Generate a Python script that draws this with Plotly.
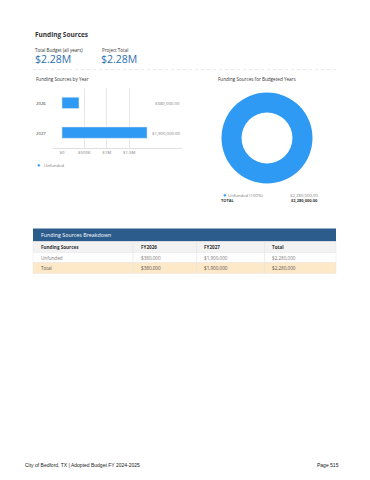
import plotly.graph_objects as go

W, H = 370, 480


def px(x):
    return x / W


def py(y):
    return 1 - y / H


# ---------------- data ----------------
page_title = "Funding Sources"
kpi_labels = ["Total Budget (all years)", "Project Total"]
kpi_values = ["$2.28M", "$2.28M"]

years = ["2026", "2027"]
unfunded = [380000, 1900000]
bar_value_labels = ["$380,000.00", "$1,900,000.00"]
tick_vals = [0, 500000, 1000000, 1500000]
tick_text = ["$0", "$500K", "$1M", "$1.5M"]

donut_labels = ["Unfunded"]
donut_values = [2280000]
donut_legend = ["Unfunded (100%)"]
donut_legend_values = ["$2,280,000.00"]
donut_total = "$2,280,000.00"

table_title = "Funding Sources Breakdown"
table_columns = ["Funding Sources", "FY2026", "FY2027", "Total"]
table_rows = [
    ["Unfunded", "$380,000", "$1,900,000", "$2,280,000"],
    ["Total", "$380,000", "$1,900,000", "$2,280,000"],
]

footer_left = "City of Bedford, TX | Adopted Budget FY 2024-2025"
footer_right = "Page 515"

# ---------------- styles ----------------
BLUE = "#2e9af3"
DARK = "#333333"
GRAY = "#7a7a7a"
FONT = "Open Sans"

ypos = list(range(len(years)))

fig = go.Figure()

fig.add_trace(go.Bar(
    y=ypos, x=unfunded, orientation="h", marker_color=BLUE, width=0.38,
    showlegend=False, xaxis="x", yaxis="y", hoverinfo="skip",
))

fig.add_trace(go.Pie(
    values=donut_values, labels=donut_labels, hole=0.56, sort=False,
    marker=dict(colors=[BLUE], line=dict(width=0)), textinfo="none",
    domain=dict(x=[px(221.5), px(312.5)], y=[py(183.5), py(92.5)]),
    showlegend=False, hoverinfo="skip",
))

annotations = []
shapes = []


def text(x, y, s, size, color=DARK, bold=False, anchor="left", family=FONT):
    annotations.append(dict(
        x=px(x), y=py(y), xref="paper", yref="paper", text=("<b>%s</b>" % s) if bold else s,
        showarrow=False, xanchor=anchor, yanchor="middle",
        font=dict(size=size, color=color, family=family),
    ))


# header texts
text(33, 35, page_title, 6.5, DARK, bold=True)
text(33, 49.5, kpi_labels[0], 4.5, DARK)
text(100, 49.5, kpi_labels[1], 4.5, DARK)
text(32.5, 59, kpi_values[0], 10.5, "#2a6fb0")
text(99.5, 59, kpi_values[1], 10.5, "#2a6fb0")

shapes.append(dict(type="line", xref="paper", yref="paper", x0=px(33), x1=px(336),
                   y0=py(69.5), y1=py(69.5), line=dict(color="#dcdcdc", width=0.6, dash="dot")))

text(33.5, 79, "Funding Sources by Year", 4.6, DARK)
text(215.5, 79, "Funding Sources for Budgeted Years", 4.6, DARK)

# bar category labels and value labels
for yi, yr, lab in zip(ypos, years, bar_value_labels):
    annotations.append(dict(x=px(33.5), y=yi, xref="paper", yref="y", text=yr, showarrow=False,
                            xanchor="left", yanchor="middle",
                            font=dict(size=4.3, color=DARK, family=FONT)))
    annotations.append(dict(x=px(182), y=yi, xref="paper", yref="y", text=lab, showarrow=False,
                            xanchor="right", yanchor="middle",
                            font=dict(size=4.3, color=GRAY, family=FONT)))

# bar legend
text(34.5, 164.5, "●", 5.5, BLUE)
text(41.5, 164.5, donut_labels[0], 4.3, GRAY)

# donut legend
text(220.5, 195, "●", 5.5, BLUE)
text(226, 195, donut_legend[0], 4.3, GRAY)
text(320, 195, donut_legend_values[0], 4.3, GRAY, anchor="right")
text(218.5, 200.5, "TOTAL", 4.0, DARK, bold=True)
text(320, 200.5, donut_total, 4.0, DARK, bold=True, anchor="right")

# table
tx0, tx1 = 33, 336
shapes.append(dict(type="rect", xref="paper", yref="paper", x0=px(tx0), x1=px(tx1),
                   y0=py(241.5), y1=py(228.5), fillcolor="#2c5c8c", line=dict(width=0)))
text(38.5, 235, table_title, 5.3, "#ffffff")
row_bounds = [(241.5, 252.5, "#f2f2f2"), (252.5, 262.5, "#ffffff"), (262.5, 273.5, "#fde8c8")]
for (a, b, c) in row_bounds:
    shapes.append(dict(type="rect", xref="paper", yref="paper", x0=px(tx0), x1=px(tx1),
                       y0=py(b), y1=py(a), fillcolor=c, line=dict(color="#e6e6e6", width=0.5)))
col_x = [38.5, 138.5, 201.5, 269.5]
sep_x = [133, 196.5, 264.5]
for sx in sep_x:
    shapes.append(dict(type="line", xref="paper", yref="paper", x0=px(sx), x1=px(sx),
                       y0=py(273.5), y1=py(241.5), line=dict(color="#e3e3e3", width=0.6)))
for cx, lab in zip(col_x, table_columns):
    text(cx, 247, lab, 4.6, DARK, bold=True)
row_colors = [GRAY, "#555555"]
for ri, row in enumerate(table_rows):
    yc = (row_bounds[ri + 1][0] + row_bounds[ri + 1][1]) / 2
    for cx, val in zip(col_x, row):
        text(cx, yc, val, 4.6, row_colors[ri])

# footer
text(23, 464.5, footer_left, 5.0, "#222222", family="Liberation Sans")
text(340.5, 464.5, footer_right, 5.0, "#222222", anchor="right", family="Liberation Sans")

fig.update_layout(
    width=W, height=H, margin=dict(l=0, r=0, t=0, b=0),
    paper_bgcolor="white", plot_bgcolor="white",
    font=dict(family=FONT, color=DARK),
    annotations=annotations, shapes=shapes,
    xaxis=dict(domain=[px(53), px(182)], range=[-200000, 2680000], tickvals=tick_vals,
               ticktext=tick_text, showgrid=True, gridcolor="#e8e8e8", gridwidth=0.8,
               zeroline=True, zerolinecolor="#ffffff", zerolinewidth=1.5,
               showline=True, linecolor="#e0e0e0", linewidth=0.8, anchor="y",
               tickfont=dict(size=4.3, color=GRAY, family=FONT), ticks="", fixedrange=True),
    yaxis=dict(domain=[py(147.5), py(88)], range=[1.5, -0.5],
               showgrid=False, zeroline=False, showline=False, ticks="",
               showticklabels=False, anchor="x", fixedrange=True),
)

fig.write_html("out.html")
